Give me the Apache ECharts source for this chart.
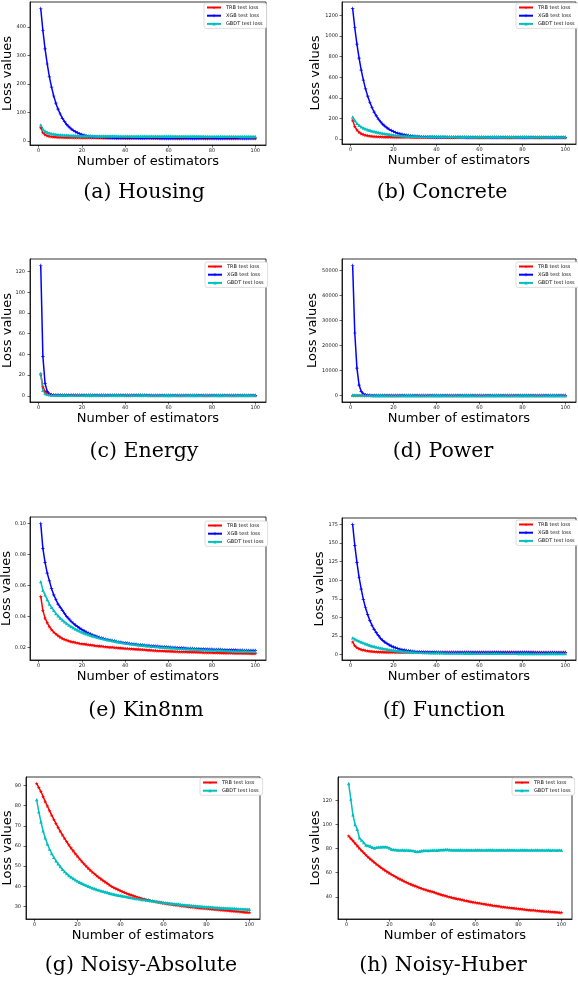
<!DOCTYPE html>
<html><head><meta charset="utf-8">
<script src="https://cdn.jsdelivr.net/npm/echarts@6/dist/echarts.min.js"></script>
<style>html,body{margin:0;padding:0;background:#fff}#c{width:578px;height:982px}</style>
</head><body><div id="c"></div>
<script>
// ---------- data (number of estimators 1..100) ----------
const estimators = Array.from({length: 100}, (_, i) => i + 1);

const housingTRB = [47,30,23,19.5,17.3,16,15.1,14.5,14.0,13.7,
13.4,13.2,13.0,12.9,12.8,12.7,12.6,12.5,12.5,12.4,
12.4,12.3,12.3,12.2,12.2,12.2,12.1,12.1,12.1,12.0,
12.0,12.0,12.0,11.9,11.9,11.9,11.9,11.8,11.8,11.8,
11.8,11.8,11.7,11.7,11.7,11.7,11.7,11.6,11.6,11.6,
11.6,11.6,11.6,11.5,11.5,11.5,11.5,11.5,11.5,11.5,
11.4,11.4,11.4,11.4,11.4,11.4,11.4,11.3,11.3,11.3,
11.3,11.3,11.3,11.3,11.3,11.3,11.2,11.2,11.2,11.2,
11.2,11.2,11.2,11.2,11.2,11.1,11.1,11.1,11.1,11.1,
11.1,11.1,11.1,11.1,11.0,11.0,11.0,11.0,11.0,11.0];
const housingXGB = [464,387,323,270,225,189,158,133,112,95,
80,68.5,58.5,50.3,43.4,37.7,33.0,29.1,25.8,23.2,
20.9,19.1,17.5,16.3,15.2,14.3,13.6,13.0,12.5,12.0,
11.7,11.4,11.2,11.0,10.8,10.7,10.6,10.5,10.4,10.3,
10.3,10.2,10.2,10.1,10.1,10.1,10.0,10.0,10.0,10.0,
9.9,9.9,9.9,9.9,9.9,9.8,9.8,9.8,9.8,9.8,
9.8,9.8,9.7,9.7,9.7,9.7,9.7,9.7,9.7,9.7,
9.6,9.6,9.6,9.6,9.6,9.6,9.6,9.6,9.6,9.6,
9.6,9.5,9.5,9.5,9.5,9.5,9.5,9.5,9.5,9.5,
9.5,9.5,9.4,9.4,9.4,9.4,9.4,9.4,9.4,9.4];
const housingGBDT = [57,42,35,31,28.3,26.4,25.0,23.9,23.0,22.3,
21.7,21.2,20.8,20.4,20.1,19.8,19.6,19.4,19.2,19.0,
18.9,18.8,18.7,18.6,18.5,18.4,18.3,18.2,18.2,18.1,
18.0,18.0,17.9,17.9,17.8,17.8,17.7,17.7,17.7,17.6,
17.6,17.6,17.5,17.5,17.5,17.4,17.4,17.4,17.4,17.3,
17.3,17.3,17.3,17.2,17.2,17.2,17.2,17.2,17.1,17.1,
17.1,17.1,17.1,17.0,17.0,17.0,17.0,17.0,17.0,16.9,
16.9,16.9,16.9,16.9,16.9,16.9,16.8,16.8,16.8,16.8,
16.8,16.8,16.8,16.8,16.7,16.7,16.7,16.7,16.7,16.7,
16.7,16.7,16.6,16.6,16.6,16.6,16.6,16.6,16.6,16.6];

const concreteTRB = [182,120,88,66,52,43,37,33,29.5,27,
25,23.4,22.2,21.2,20.4,19.7,19.1,18.6,18.2,17.8,
17.5,17.2,17.0,16.8,16.6,16.4,16.3,16.1,16.0,15.9,
15.8,15.7,15.6,15.5,15.4,15.3,15.3,15.2,15.1,15.1,
15.0,15.0,14.9,14.9,14.8,14.8,14.7,14.7,14.7,14.6,
14.6,14.6,14.5,14.5,14.5,14.4,14.4,14.4,14.4,14.3,
14.3,14.3,14.3,14.2,14.2,14.2,14.2,14.2,14.1,14.1,
14.1,14.1,14.1,14.0,14.0,14.0,14.0,14.0,14.0,13.9,
13.9,13.9,13.9,13.9,13.9,13.9,13.9,13.9,13.9,13.9,
13.8,13.8,13.8,13.8,13.8,13.8,13.8,13.8,13.8,13.8];
const concreteXGB = [1270,1082,922,786,670,572,488,417,357,306,
262,225,193,167,144,125,108,94,82,72,
64,56,50,45,40,37,33,31,28,26,
24.5,23.2,21.9,20.9,20.0,19.3,18.7,18.2,17.8,17.4,
17.1,16.9,16.7,16.5,16.3,16.2,16.0,15.9,15.8,15.7,
15.6,15.5,15.4,15.3,15.2,15.2,15.1,15.0,15.0,14.9,
14.9,14.8,14.8,14.7,14.7,14.6,14.6,14.5,14.5,14.5,
14.4,14.4,14.4,14.3,14.3,14.3,14.2,14.2,14.2,14.1,
14.1,14.1,14.1,14.0,14.0,14.0,14.0,13.9,13.9,13.9,
13.9,13.9,13.8,13.8,13.8,13.8,13.8,13.7,13.7,13.7];
const concreteGBDT = [214,180,152,133,118,106,98,90,84,78,
73,68,63.5,59,55,51.5,48,45,42,39,
36.5,34.5,32.8,31.3,30.0,29.0,28.1,27.4,26.8,26.3,
25.8,25.4,25.0,24.7,24.4,24.1,23.9,23.7,23.5,23.3,
23.1,23.0,22.8,22.7,22.6,22.5,22.4,22.3,22.2,22.1,
22.0,21.9,21.9,21.8,21.7,21.7,21.6,21.6,21.5,21.5,
21.4,21.4,21.3,21.3,21.3,21.2,21.2,21.2,21.1,21.1,
21.1,21.0,21.0,21.0,21.0,20.9,20.9,20.9,20.9,20.8,
20.8,20.8,20.8,20.8,20.8,20.7,20.7,20.7,20.7,20.7,
20.6,20.6,20.6,20.6,20.6,20.5,20.5,20.5,20.5,20.5];

const energyTRB = [21,8.5,4.2,2.4,1.6,1.2,0.95,0.8,0.7,0.62,
0.56,0.52,0.49,0.46,0.44,0.42,0.41,0.40,0.39,0.38,
0.37,0.37,0.36,0.36,0.35,0.35,0.34,0.34,0.34,0.33,
0.33,0.33,0.32,0.32,0.32,0.32,0.31,0.31,0.31,0.31,
0.30,0.30,0.30,0.30,0.30,0.30,0.30,0.30,0.30,0.30,
0.29,0.29,0.29,0.29,0.29,0.29,0.29,0.29,0.29,0.29,
0.28,0.28,0.28,0.28,0.28,0.28,0.28,0.28,0.28,0.28,
0.27,0.27,0.27,0.27,0.27,0.27,0.27,0.27,0.27,0.27,
0.26,0.26,0.26,0.26,0.26,0.26,0.26,0.26,0.26,0.26,
0.25,0.25,0.25,0.25,0.25,0.25,0.25,0.25,0.25,0.25];
const energyXGB = [126,38,12,4.2,1.8,1.0,0.72,0.6,0.54,0.5,
0.48,0.46,0.45,0.44,0.43,0.42,0.42,0.41,0.41,0.40,
0.40,0.40,0.40,0.40,0.40,0.40,0.40,0.40,0.40,0.40,
0.39,0.39,0.39,0.39,0.39,0.39,0.39,0.39,0.39,0.39,
0.38,0.38,0.38,0.38,0.38,0.38,0.38,0.38,0.38,0.38,
0.37,0.37,0.37,0.37,0.37,0.37,0.37,0.37,0.37,0.37,
0.36,0.36,0.36,0.36,0.36,0.36,0.36,0.36,0.36,0.36,
0.35,0.35,0.35,0.35,0.35,0.35,0.35,0.35,0.35,0.35,
0.34,0.34,0.34,0.34,0.34,0.34,0.34,0.34,0.34,0.34,
0.33,0.33,0.33,0.33,0.33,0.33,0.33,0.33,0.33,0.33];
const energyGBDT = [21.5,5.2,2.2,1.3,0.95,0.8,0.72,0.67,0.63,0.6,
0.58,0.56,0.55,0.54,0.53,0.52,0.51,0.51,0.50,0.50,
0.49,0.49,0.49,0.49,0.49,0.49,0.49,0.49,0.49,0.49,
0.48,0.48,0.48,0.48,0.48,0.48,0.48,0.48,0.48,0.48,
0.47,0.47,0.47,0.47,0.47,0.47,0.47,0.47,0.47,0.47,
0.46,0.46,0.46,0.46,0.46,0.46,0.46,0.46,0.46,0.46,
0.45,0.45,0.45,0.45,0.45,0.45,0.45,0.45,0.45,0.45,
0.44,0.44,0.44,0.44,0.44,0.44,0.44,0.44,0.44,0.44,
0.43,0.43,0.43,0.43,0.43,0.43,0.43,0.43,0.43,0.43,
0.42,0.42,0.42,0.42,0.42,0.42,0.42,0.42,0.42,0.42];

const powerTRB = [60,32,24,21,19.8,19.2,18.8,18.5,18.3,18.1,
18.0,17.9,17.8,17.7,17.6,17.5,17.5,17.4,17.4,17.3,
17.3,17.3,17.3,17.3,17.3,17.3,17.3,17.3,17.3,17.3,
17.2,17.2,17.2,17.2,17.2,17.2,17.2,17.2,17.2,17.2,
17.1,17.1,17.1,17.1,17.1,17.1,17.1,17.1,17.1,17.1,
17.0,17.0,17.0,17.0,17.0,17.0,17.0,17.0,17.0,17.0,
16.9,16.9,16.9,16.9,16.9,16.9,16.9,16.9,16.9,16.9,
16.8,16.8,16.8,16.8,16.8,16.8,16.8,16.8,16.8,16.8,
16.7,16.7,16.7,16.7,16.7,16.7,16.7,16.7,16.7,16.7,
16.6,16.6,16.6,16.6,16.6,16.6,16.6,16.6,16.6,16.6];
const powerXGB = [52000,25000,11000,4200,1600,650,280,130,70,42,
30,24,21,19.8,19.2,18.9,18.7,18.5,18.4,18.3,
18.2,18.2,18.2,18.2,18.2,18.2,18.2,18.2,18.2,18.2,
18.1,18.1,18.1,18.1,18.1,18.1,18.1,18.1,18.1,18.1,
18.0,18.0,18.0,18.0,18.0,18.0,18.0,18.0,18.0,18.0,
17.9,17.9,17.9,17.9,17.9,17.9,17.9,17.9,17.9,17.9,
17.8,17.8,17.8,17.8,17.8,17.8,17.8,17.8,17.8,17.8,
17.7,17.7,17.7,17.7,17.7,17.7,17.7,17.7,17.7,17.7,
17.6,17.6,17.6,17.6,17.6,17.6,17.6,17.6,17.6,17.6,
17.5,17.5,17.5,17.5,17.5,17.5,17.5,17.5,17.5,17.5];
const powerGBDT = [230,188,154,127,105,87,72,60,51,44,
38,34,30.5,28,26,24.5,23.3,22.4,21.7,21.1,
20.6,20.2,19.9,19.6,19.4,19.2,19.0,18.9,18.8,18.7,
18.6,18.6,18.6,18.6,18.6,18.6,18.6,18.6,18.6,18.6,
18.5,18.5,18.5,18.5,18.5,18.5,18.5,18.5,18.5,18.5,
18.4,18.4,18.4,18.4,18.4,18.4,18.4,18.4,18.4,18.4,
18.3,18.3,18.3,18.3,18.3,18.3,18.3,18.3,18.3,18.3,
18.2,18.2,18.2,18.2,18.2,18.2,18.2,18.2,18.2,18.2,
18.1,18.1,18.1,18.1,18.1,18.1,18.1,18.1,18.1,18.1,
18.0,18.0,18.0,18.0,18.0,18.0,18.0,18.0,18.0,18.0];

const kin8nmTRB = [0.053,0.044,0.039,0.036,0.0335,0.0315,0.030,0.0288,0.0277,0.0267,
0.0259,0.0253,0.0248,0.0243,0.0239,0.0236,0.0233,0.0230,0.0227,0.0225,
0.0223,0.0221,0.0219,0.0217,0.0215,0.0213,0.0212,0.0210,0.0209,0.0207,
0.0206,0.0204,0.0203,0.0202,0.0200,0.0199,0.0198,0.0197,0.0196,0.0195,
0.0194,0.0193,0.0192,0.0191,0.0190,0.0189,0.0188,0.0187,0.0186,0.0185,
0.0184,0.0183,0.0182,0.0181,0.0180,0.0180,0.0179,0.0178,0.0177,0.0177,
0.0176,0.0176,0.0175,0.0175,0.0174,0.0174,0.0173,0.0173,0.0172,0.0172,
0.0171,0.0171,0.0170,0.0170,0.0170,0.0169,0.0169,0.0168,0.0168,0.0168,
0.0167,0.0167,0.0167,0.0166,0.0166,0.0166,0.0165,0.0165,0.0165,0.0164,
0.0164,0.0164,0.0164,0.0163,0.0163,0.0163,0.0163,0.0162,0.0162,0.0162];
const kin8nmXGB = [0.100,0.084,0.075,0.068,0.063,0.058,0.054,0.051,0.048,0.046,
0.044,0.042,0.040,0.0385,0.037,0.0357,0.0345,0.0335,0.0325,0.0316,
0.0308,0.0300,0.0293,0.0287,0.0281,0.0276,0.0271,0.0266,0.0262,0.0258,
0.0254,0.0251,0.0248,0.0245,0.0242,0.0239,0.0236,0.0234,0.0232,0.0230,
0.0228,0.0226,0.0224,0.0222,0.0221,0.0219,0.0218,0.0216,0.0215,0.0214,
0.0213,0.0211,0.0210,0.0209,0.0208,0.0207,0.0206,0.0205,0.0204,0.0203,
0.0202,0.0201,0.0200,0.0199,0.0198,0.0198,0.0197,0.0196,0.0195,0.0195,
0.0194,0.0193,0.0193,0.0192,0.0191,0.0191,0.0190,0.0190,0.0189,0.0189,
0.0188,0.0188,0.0187,0.0187,0.0186,0.0186,0.0185,0.0185,0.0185,0.0184,
0.0184,0.0183,0.0183,0.0183,0.0182,0.0182,0.0182,0.0181,0.0181,0.0181];
const kin8nmGBDT = [0.0625,0.057,0.054,0.051,0.048,0.046,0.044,0.042,0.0405,0.039,
0.0378,0.0366,0.0355,0.0345,0.0336,0.0328,0.0320,0.0313,0.0306,0.0300,
0.0294,0.0289,0.0284,0.0279,0.0275,0.0271,0.0267,0.0263,0.0260,0.0257,
0.0254,0.0251,0.0248,0.0245,0.0242,0.0239,0.0237,0.0234,0.0232,0.0230,
0.0228,0.0226,0.0224,0.0222,0.0220,0.0218,0.0217,0.0215,0.0214,0.0212,
0.0211,0.0209,0.0208,0.0207,0.0206,0.0204,0.0203,0.0202,0.0201,0.0200,
0.0199,0.0198,0.0197,0.0196,0.0195,0.0194,0.0194,0.0193,0.0192,0.0191,
0.0191,0.0190,0.0189,0.0189,0.0188,0.0187,0.0187,0.0186,0.0186,0.0185,
0.0184,0.0184,0.0183,0.0183,0.0182,0.0182,0.0181,0.0181,0.0180,0.0180,
0.0179,0.0179,0.0178,0.0178,0.0178,0.0177,0.0177,0.0176,0.0176,0.0176];

const functionTRB = [17,12,9.5,8,7,6.2,5.6,5.1,4.7,4.4,
4.1,3.9,3.7,3.55,3.45,3.35,3.3,3.25,3.2,3.15,
3.1,3.1,3.1,3.1,3.1,3.1,3.1,3.1,3.1,3.1,
3.05,3.05,3.05,3.05,3.05,3.05,3.05,3.05,3.05,3.05,
3.0,3.0,3.0,3.0,3.0,3.0,3.0,3.0,3.0,3.0,
3.0,3.0,3.0,3.0,3.0,2.95,2.95,2.95,2.95,2.95,
2.95,2.95,2.95,2.95,2.95,2.95,2.95,2.95,2.95,2.95,
2.9,2.9,2.9,2.9,2.9,2.9,2.9,2.9,2.9,2.9,
2.9,2.9,2.9,2.9,2.9,2.85,2.85,2.85,2.85,2.85,
2.85,2.85,2.85,2.85,2.85,2.85,2.85,2.85,2.85,2.85];
const functionXGB = [175,147,124,104,88,74,63,54,46,39.5,
34,29.5,25.5,22,19.2,16.8,14.8,13.0,11.5,10.2,
9.1,8.2,7.4,6.7,6.1,5.6,5.2,4.8,4.5,4.2,
4.0,3.8,3.7,3.6,3.5,3.4,3.35,3.3,3.25,3.2,
3.2,3.2,3.2,3.2,3.2,3.15,3.15,3.15,3.15,3.15,
3.15,3.15,3.15,3.15,3.15,3.1,3.1,3.1,3.1,3.1,
3.1,3.1,3.1,3.1,3.1,3.1,3.1,3.1,3.1,3.1,
3.05,3.05,3.05,3.05,3.05,3.05,3.05,3.05,3.05,3.05,
3.05,3.05,3.05,3.05,3.05,3.0,3.0,3.0,3.0,3.0,
3.0,3.0,3.0,3.0,3.0,3.0,3.0,3.0,3.0,3.0];
const functionGBDT = [22.5,21,19.5,18.2,17,15.8,14.7,13.6,12.6,11.7,
10.9,10.1,9.4,8.8,8.2,7.7,7.2,6.7,6.3,5.9,
5.5,5.2,4.9,4.6,4.3,4.1,3.9,3.7,3.5,3.3,
3.2,3.1,3.0,2.9,2.8,2.7,2.6,2.55,2.5,2.45,
2.4,2.35,2.3,2.25,2.2,2.15,2.1,2.1,2.05,2.0,
1.98,1.96,1.94,1.92,1.90,1.88,1.86,1.84,1.82,1.80,
1.79,1.78,1.77,1.76,1.75,1.74,1.73,1.72,1.71,1.70,
1.69,1.68,1.67,1.66,1.65,1.64,1.63,1.62,1.61,1.60,
1.59,1.58,1.57,1.56,1.55,1.54,1.53,1.52,1.51,1.50,
1.50,1.50,1.49,1.49,1.48,1.48,1.47,1.47,1.46,1.46];

const noisyAbsTRB = [91,89,87,84.5,82,79.8,77.5,75.3,73.2,71.2,
69.2,67.3,65.5,63.8,62.1,60.5,59,57.6,56.2,54.9,
53.6,52.4,51.2,50.1,49,48,47,46.1,45.2,44.4,
43.6,42.8,42.1,41.4,40.6,39.9,39.3,38.8,38.3,37.8,
37.3,36.9,36.5,36.1,35.7,35.3,35.0,34.6,34.3,34.0,
33.7,33.4,33.2,32.9,32.7,32.5,32.3,32.1,31.9,31.7,
31.5,31.3,31.2,31.0,30.9,30.7,30.6,30.4,30.3,30.2,
30.0,29.9,29.8,29.7,29.5,29.4,29.3,29.2,29.1,29.0,
28.9,28.8,28.7,28.6,28.5,28.4,28.3,28.2,28.1,28.0,
27.9,27.8,27.7,27.6,27.5,27.4,27.3,27.2,27.1,27.0];
const noisyAbsGBDT = [83,77,72,67.5,64,61,58.5,56.3,54.4,52.7,
51.2,49.8,48.5,47.3,46.3,45.4,44.6,43.9,43.2,42.6,
42.0,41.5,41.0,40.5,40.0,39.6,39.2,38.8,38.4,38.1,
37.8,37.5,37.2,36.9,36.6,36.3,36.1,35.8,35.6,35.4,
35.2,35.0,34.8,34.6,34.4,34.2,34.0,33.9,33.7,33.5,
33.4,33.2,33.1,32.9,32.8,32.6,32.5,32.3,32.2,32.0,
31.9,31.8,31.6,31.5,31.4,31.3,31.2,31.0,30.9,30.8,
30.7,30.6,30.5,30.4,30.3,30.2,30.1,30.0,29.9,29.8,
29.8,29.7,29.6,29.5,29.5,29.4,29.3,29.3,29.2,29.1,
29.1,29.0,29.0,28.9,28.8,28.8,28.7,28.7,28.6,28.6];

const noisyHuberTRB = [90.5,88.5,86.5,84.5,82.3,80.3,78.4,76.6,74.8,73.1,
71.5,70,68.5,67,65.7,64.4,63.1,61.9,60.7,59.6,
58.5,57.5,56.5,55.5,54.6,53.7,52.8,52.0,51.2,50.4,
49.7,49.0,48.3,47.6,47.0,46.4,45.8,45.2,44.7,44.2,
43.6,43.0,42.4,41.9,41.4,40.9,40.4,39.9,39.4,39.0,
38.6,38.2,37.8,37.4,37.0,36.7,36.3,36.0,35.6,35.3,
35.0,34.7,34.4,34.1,33.8,33.5,33.2,32.9,32.7,32.4,
32.2,31.9,31.7,31.4,31.2,31.0,30.8,30.6,30.4,30.2,
30.0,29.8,29.6,29.4,29.2,29.0,28.9,28.7,28.5,28.3,
28.2,28.0,27.9,27.8,27.6,27.5,27.4,27.3,27.1,27.0];
const noisyHuberGBDT = [134,121,108,100,96,89,87,85,83,82.5,
82,81,80.5,81,81.2,81.3,81.5,81.5,81.2,80.5,
79.5,79.2,79,78.8,78.7,78.8,78.6,78.7,78.6,78.5,
78.3,77.8,77.6,77.8,78.2,78.4,78.5,78.4,78.5,78.6,
78.7,78.6,78.8,79,79.1,79.3,79.2,79.0,78.9,78.9,
78.9,78.8,78.8,78.9,78.7,78.8,78.9,78.8,78.7,78.8,
78.9,78.8,78.8,78.7,78.8,78.9,78.9,78.8,78.7,78.8,
78.8,78.9,78.8,78.7,78.8,78.8,78.9,78.8,78.7,78.7,
78.8,78.8,78.9,78.8,78.7,78.8,78.7,78.8,78.8,78.7,
78.8,78.7,78.7,78.8,78.6,78.7,78.7,78.6,78.7,78.6];

// tick labels
const xTicks = [0, 20, 40, 60, 80, 100];
const housingTicks = [0, 100, 200, 300, 400];
const concreteTicks = [0, 200, 400, 600, 800, 1000, 1200];
const energyTicks = [0, 20, 40, 60, 80, 100, 120];
const powerTicks = [0, 10000, 20000, 30000, 40000, 50000];
const kin8nmTicks = [0.02, 0.04, 0.06, 0.08, 0.10];
const functionTicks = [0, 25, 50, 75, 100, 125, 150, 175];
const noisyAbsTicks = [30, 40, 50, 60, 70, 80, 90];
const noisyHuberTicks = [40, 60, 80, 100, 120];

// ---------- layout ----------
const STAR = 'path://M50,0 L61,35 L98,35 L68,57 L79,91 L50,70 L21,91 L32,57 L2,35 L39,35 Z';
const PLUS = 'path://M40,0 H60 V40 H100 V60 H60 V100 H40 V60 H0 V40 H40 Z';
const STYLE = {
  'TRB test loss':  {color: '#ff0000', symbol: STAR, size: 4},
  'XGB test loss':  {color: '#0000ff', symbol: PLUS, size: 3.5},
  'GBDT test loss': {color: '#00bfbf', symbol: 'triangle', size: 3.4}
};
const FONT = 'DejaVu Sans';

const panels = [
  {cap: '(a) Housing', cx: 144, cy: 193, grid: {left: 30, top: 2, width: 236, height: 143}, ticks: housingTicks, lg: [204, 3], yGap: 16, yLm: 4,
   s: [['TRB test loss', housingTRB], ['XGB test loss', housingXGB], ['GBDT test loss', housingGBDT]]},
  {cap: '(b) Concrete', cx: 442, cy: 193, grid: {left: 342, top: 2, width: 234, height: 142}, ticks: concreteTicks, lg: [516, 3], yGap: 19.5, yLm: 4,
   s: [['TRB test loss', concreteTRB], ['XGB test loss', concreteXGB], ['GBDT test loss', concreteGBDT]]},
  {cap: '(c) Energy', cx: 144, cy: 452, grid: {left: 30, top: 259, width: 236, height: 143}, ticks: energyTicks, lg: [205, 262], yGap: 16, yLm: 5,
   s: [['TRB test loss', energyTRB], ['XGB test loss', energyXGB], ['GBDT test loss', energyGBDT]]},
  {cap: '(d) Power', cx: 443, cy: 452, grid: {left: 342, top: 259, width: 234, height: 143}, ticks: powerTicks, lg: [516, 262], yGap: 23, yLm: 4,
   s: [['TRB test loss', powerTRB], ['XGB test loss', powerXGB], ['GBDT test loss', powerGBDT]]},
  {cap: '(e) Kin8nm', cx: 146, cy: 711, grid: {left: 30, top: 517, width: 236, height: 143}, ticks: kin8nmTicks, lg: [205, 521], yGap: 17, yLm: 4, fmt: v => v.toFixed(2),
   s: [['TRB test loss', kin8nmTRB], ['XGB test loss', kin8nmXGB], ['GBDT test loss', kin8nmGBDT]]},
  {cap: '(f) Function', cx: 444, cy: 711, grid: {left: 342, top: 518, width: 234, height: 142}, ticks: functionTicks, lg: [516, 520], yGap: 16, yLm: 4,
   s: [['TRB test loss', functionTRB], ['XGB test loss', functionXGB], ['GBDT test loss', functionGBDT]]},
  {cap: '(g) Noisy-Absolute', cx: 141, cy: 966, grid: {left: 26, top: 777, width: 234, height: 142}, ticks: noisyAbsTicks, lg: [200, 778], yGap: 12, yLm: 5,
   s: [['TRB test loss', noisyAbsTRB], ['GBDT test loss', noisyAbsGBDT]]},
  {cap: '(h) Noisy-Huber', cx: 443, cy: 966, grid: {left: 338, top: 777, width: 234, height: 142}, ticks: noisyHuberTicks, lg: [512, 778], yGap: 16, yLm: 6,
   s: [['TRB test loss', noisyHuberTRB], ['GBDT test loss', noisyHuberGBDT]]}
];

const option = {animation: false, backgroundColor: '#fff', grid: [], xAxis: [], yAxis: [], series: [], legend: [], graphic: []};

panels.forEach((p, i) => {
  option.grid.push(Object.assign({show: true, borderColor: '#000', borderWidth: 0.8, containLabel: false, outerBoundsMode: 'none'}, p.grid));
  option.xAxis.push({
    type: 'value', gridIndex: i, min: -3.95, max: 104.95,
    name: 'Number of estimators', nameLocation: 'middle', nameGap: 10, nameMoveOverlap: false,
    nameTextStyle: {fontFamily: FONT, fontSize: 13, color: '#000'},
    axisLine: {show: true, onZero: false, lineStyle: {color: '#000', width: 0.8}},
    axisTick: {show: true, length: 2.5, customValues: xTicks, lineStyle: {color: '#000', width: 0.6}},
    axisLabel: {customValues: xTicks, fontFamily: FONT, fontSize: 5, color: '#222', margin: 3},
    splitLine: {show: false}
  });
  let lo = Infinity, hi = -Infinity;
  p.s.forEach(([, d]) => d.forEach(v => { lo = Math.min(lo, v); hi = Math.max(hi, v); }));
  const pad = (hi - lo) * 0.05;
  option.yAxis.push({
    type: 'value', gridIndex: i, min: lo - pad, max: hi + pad,
    name: 'Loss values', nameLocation: 'middle', nameGap: p.yGap, nameMoveOverlap: false,
    nameTextStyle: {fontFamily: FONT, fontSize: 13, color: '#000'},
    axisLine: {show: true, onZero: false, lineStyle: {color: '#000', width: 0.8}},
    axisTick: {show: true, length: 2.5, customValues: p.ticks, lineStyle: {color: '#000', width: 0.6}},
    axisLabel: {customValues: p.ticks, fontFamily: FONT, fontSize: 5, color: '#222', margin: p.yLm,
                formatter: p.fmt ? p.fmt : (v => String(v))},
    splitLine: {show: false}
  });
  p.s.forEach(([name, d]) => {
    const st = STYLE[name];
    option.series.push({
      type: 'line', name, xAxisIndex: i, yAxisIndex: i,
      data: estimators.map((x, j) => [x, d[j]]),
      symbol: st.symbol, symbolSize: st.size, showSymbol: true, showAllSymbol: true,
      lineStyle: {color: st.color, width: 1.5},
      itemStyle: {color: st.color},
      emphasis: {disabled: true}
    });
  });
  option.legend.push({
    orient: 'vertical', left: p.lg[0], top: p.lg[1],
    data: p.s.map(x => x[0]),
    itemWidth: 14, itemHeight: 4, itemGap: 3.2,
    padding: [2, 4, 2, 2],
    borderColor: '#c8c8c8', borderWidth: 0.6, borderRadius: 2, backgroundColor: '#fff',
    textStyle: {fontFamily: FONT, fontSize: 5, color: '#111'}
  });
  option.graphic.push({
    type: 'text', x: p.cx, y: p.cy,
    style: {text: p.cap, font: '20.5px "DejaVu Serif"', fill: '#000', textAlign: 'center', textVerticalAlign: 'middle'}
  });
});

const chart = echarts.init(document.getElementById('c'), null, {renderer: 'canvas'});
chart.setOption(option);
</script>
</body></html>
